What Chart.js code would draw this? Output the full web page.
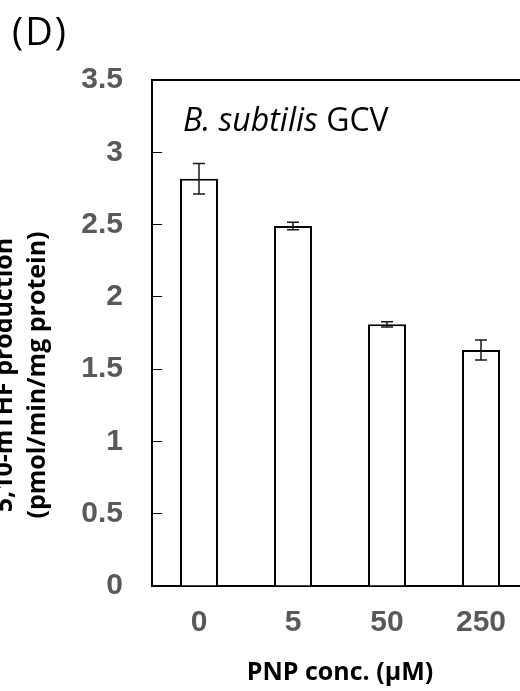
<!DOCTYPE html>
<html lang="en">
<head>
    <meta charset="UTF-8">
    <title>PNP conc. vs 5,10-mTHF production</title>
    <script src="https://cdn.jsdelivr.net/npm/chart.js"></script>
    <style>
        html, body {
            margin: 0;
            width: 520px;
            height: 691px;
            overflow: hidden;
            background: #fff;
            position: relative;
        }
        #wrap {
            position: absolute;
            left: -30px;
            top: 0;
            width: 570px;
            height: 691px;
        }
        #panel {
            position: absolute;
            left: 12px;
            top: 4px;
            font-family: "Open Sans", sans-serif;
            font-size: 38px;
            letter-spacing: 2px;
            color: #000;
        }
        #note {
            position: absolute;
            left: 183px;
            top: 97px;
            font-family: "Open Sans", sans-serif;
            font-size: 32px;
            color: #000;
            white-space: nowrap;
        }
        #ytitle {
            position: absolute;
            left: -141px;
            top: 342px;
            width: 320px;
            height: 66px;
            line-height: 33px;
            text-align: center;
            font-family: "Open Sans", sans-serif;
            font-weight: bold;
            font-size: 25px;
            color: #000;
            white-space: nowrap;
            transform: rotate(-90deg);
        }
    </style>
</head>
<body>
    <div id="wrap"><canvas id="chart"></canvas></div>
    <div id="panel">(D)</div>
    <div id="note"><i>B. subtilis</i> GCV</div>
    <div id="ytitle">5,10-mTHF production<br>(pmol/min/mg protein)</div>

    <script>
        // valeurs
        const concentrations = ['0', '5', '50', '250'];
        const production = [2.817, 2.490, 1.810, 1.632];
        const erreurs = [0.105, 0.026, 0.018, 0.069];
        const yTicks = [0, 0.5, 1, 1.5, 2, 2.5, 3, 3.5];

        // barres d'erreur dessinées à partir de l'échelle y
        const errorBars = {
            id: 'errorBars',
            afterDatasetsDraw(chart) {
                const ctx = chart.ctx;
                const y = chart.scales.y;
                const meta = chart.getDatasetMeta(0);
                ctx.save();
                ctx.strokeStyle = '#1a1a1a';
                ctx.lineWidth = 1.5;
                meta.data.forEach((bar, i) => {
                    const top = y.getPixelForValue(production[i] + erreurs[i]);
                    const bottom = y.getPixelForValue(production[i] - erreurs[i]);
                    const x = bar.x;
                    ctx.beginPath();
                    ctx.moveTo(x, top); ctx.lineTo(x, bottom);
                    ctx.moveTo(x - 6, top); ctx.lineTo(x + 6, top);
                    ctx.moveTo(x - 6, bottom); ctx.lineTo(x + 6, bottom);
                    ctx.stroke();
                });
                ctx.restore();
            }
        };

        const ctx = document.getElementById('chart').getContext('2d');
        const chart = new Chart(ctx, {
            type: 'bar',
            data: {
                labels: concentrations,
                datasets: [{
                    data: production,
                    backgroundColor: '#ffffff',
                    borderColor: '#000000',
                    borderWidth: 2,
                    borderSkipped: 'start',
                    categoryPercentage: 1,
                    barPercentage: 0.404
                }]
            },
            plugins: [errorBars],
            options: {
                responsive: true,
                maintainAspectRatio: false,
                animation: false,
                layout: {
                    padding: { left: 22, right: 12, top: 80, bottom: 0 }
                },
                plugins: {
                    legend: { display: false },
                    tooltip: { enabled: false }
                },
                scales: {
                    x: {
                        grid: { display: false, drawTicks: false },
                        border: { display: true, color: '#000', width: 2 },
                        ticks: {
                            color: '#595959',
                            padding: 19,
                            font: { family: 'Liberation Sans', size: 30, weight: 'bold' }
                        },
                        title: {
                            display: true,
                            text: 'PNP conc. (\u00b5M)',
                            color: '#000',
                            padding: { top: 0, bottom: 3 },
                            font: { family: 'Open Sans', size: 25, weight: 'bold' }
                        },
                        afterFit: s => { s.height = 105; }
                    },
                    x2: {
                        position: 'top',
                        grid: { display: false, drawTicks: false },
                        border: { display: true, color: '#000', width: 2 },
                        ticks: { display: false },
                        afterFit: s => { s.height = 0; }
                    },
                    y: {
                        min: 0,
                        max: 3.5,
                        afterBuildTicks: s => { s.ticks = yTicks.map(v => ({ value: v })); },
                        grid: {
                            drawOnChartArea: false,
                            drawTicks: true,
                            tickLength: -10,
                            color: '#000',
                            lineWidth: 1
                        },
                        border: { display: true, color: '#000', width: 2 },
                        ticks: {
                            color: '#595959',
                            padding: 39,
                            callback: v => String(v),
                            font: { family: 'Liberation Sans', size: 30, weight: 'bold' }
                        },
                        afterFit: s => { s.width = 160; }
                    }
                }
            }
        });
    </script>
</body>
</html>
